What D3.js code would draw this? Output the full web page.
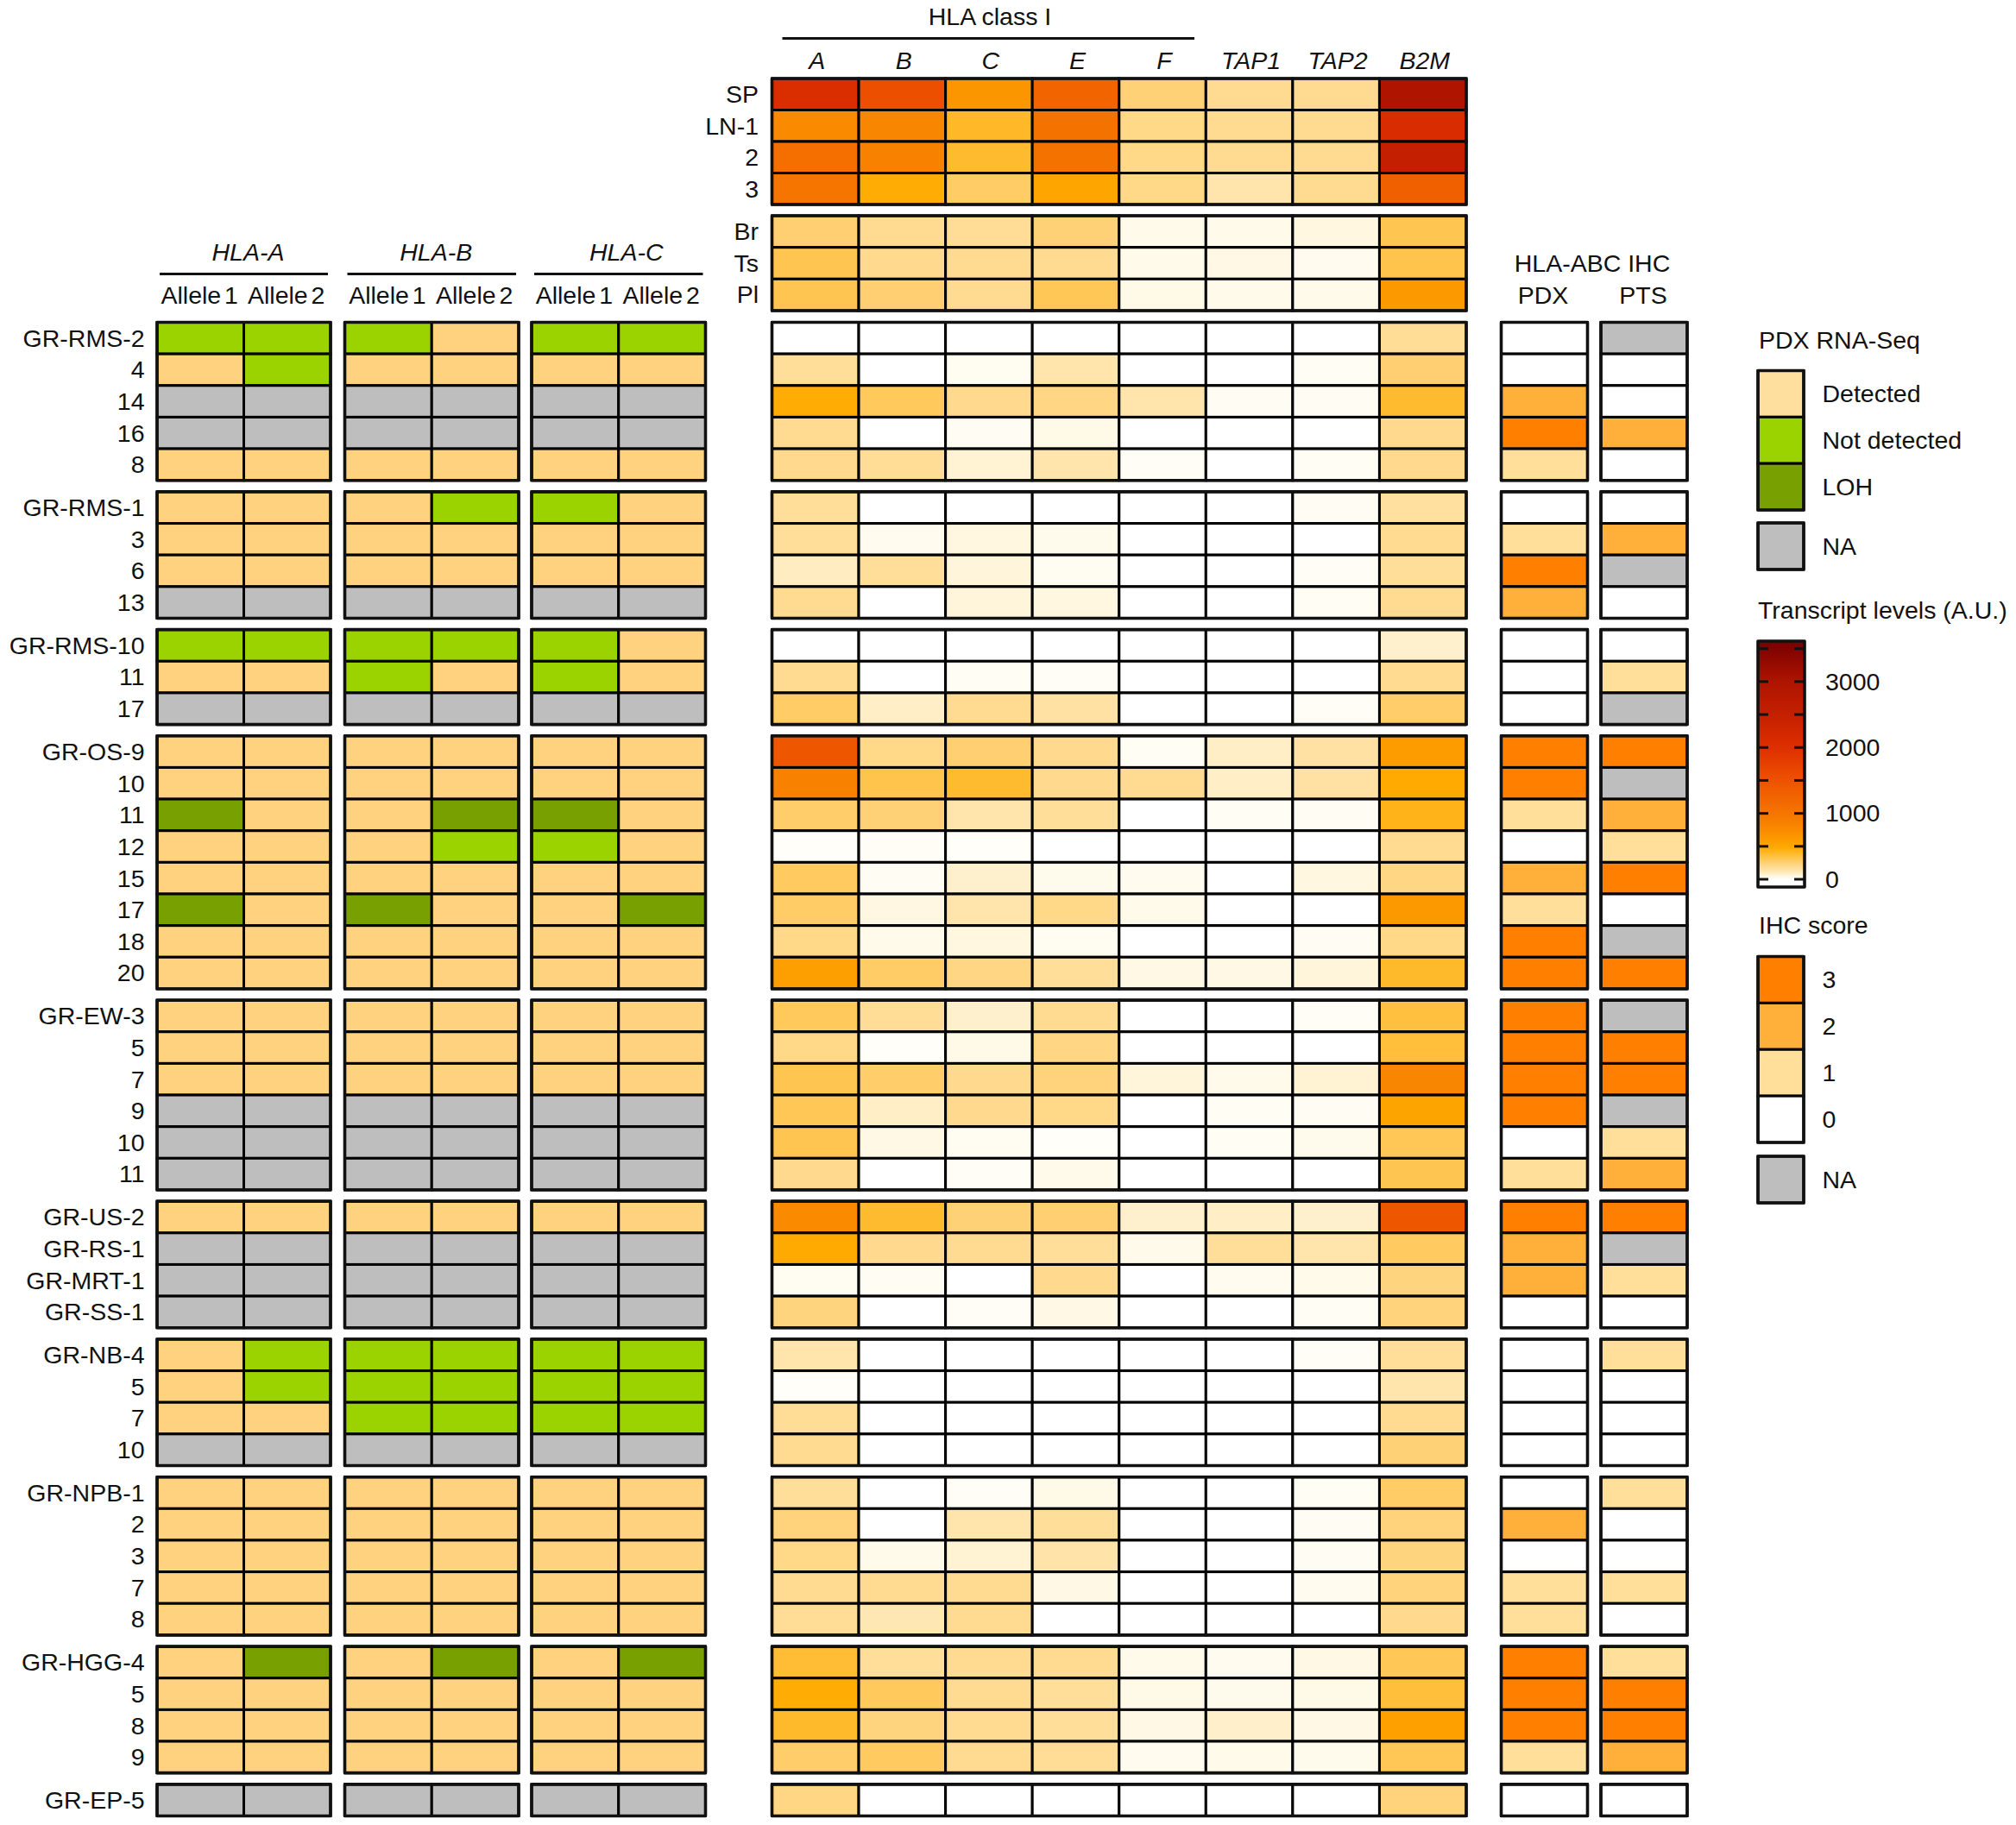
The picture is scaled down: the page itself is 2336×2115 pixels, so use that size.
<!DOCTYPE html>
<html>
<head>
    <title>HLA class I expression heatmap</title>
    <script src="https://d3js.org/d3.v7.min.js"></script>
    <style>
        body { margin: 0; background: white; }
        text { font-family: "Liberation Sans", Arial, sans-serif; font-size: 28.5px; fill: #111; }
        .it { font-style: italic; }
    </style>
</head>
<body>
    <div id="chart"></div>
    <script>
        var genes = ["A", "B", "C", "E", "F", "TAP1", "TAP2", "B2M"];
        var alleleGenes = ["HLA-A", "HLA-B", "HLA-C"];
        var alleleNames = ["Allele 1", "Allele 2"];

        // reference tissues, top of the heatmap
        var refLabels1 = ["SP", "LN-1", "2", "3"];
        var refValues1 = [
            [2050, 1550, 650, 1250, 250, 190, 190, 3000],
            [750, 800, 400, 1050, 210, 190, 190, 2100],
            [1100, 850, 380, 1050, 210, 190, 190, 2500],
            [1000, 470, 280, 520, 210, 130, 190, 1300]
        ];
        var refLabels2 = ["Br", "Ts", "Pl"];
        var refValues2 = [
            [260, 190, 180, 250, 30, 30, 50, 320],
            [320, 200, 190, 190, 30, 40, 20, 330],
            [320, 260, 190, 310, 35, 30, 30, 620]
        ];

        // one sub-array per PDX group
        var rowLabels = [
            ["GR-RMS-2", "4", "14", "16", "8"],
            ["GR-RMS-1", "3", "6", "13"],
            ["GR-RMS-10", "11", "17"],
            ["GR-OS-9", "10", "11", "12", "15", "17", "18", "20"],
            ["GR-EW-3", "5", "7", "9", "10", "11"],
            ["GR-US-2", "GR-RS-1", "GR-MRT-1", "GR-SS-1"],
            ["GR-NB-4", "5", "7", "10"],
            ["GR-NPB-1", "2", "3", "7", "8"],
            ["GR-HGG-4", "5", "8", "9"],
            ["GR-EP-5"]
        ];

        // D detected, N not detected, L LOH, X NA; A1 A2 B1 B2 C1 C2
        var alleleStatus = [
            "NNNDNN", "DNDDDD", "XXXXXX", "XXXXXX", "DDDDDD",
            "DDDNND", "DDDDDD", "DDDDDD", "XXXXXX",
            "NNNNND", "DDNDND", "XXXXXX",
            "DDDDDD", "DDDDDD", "LDDLLD", "DDDNND", "DDDDDD", "LDLDDL", "DDDDDD", "DDDDDD",
            "DDDDDD", "DDDDDD", "DDDDDD", "XXXXXX", "XXXXXX", "XXXXXX",
            "DDDDDD", "XXXXXX", "XXXXXX", "XXXXXX",
            "DNNNNN", "DNNNNN", "DDNNNN", "XXXXXX",
            "DDDDDD", "DDDDDD", "DDDDDD", "DDDDDD", "DDDDDD",
            "DLDLDL", "DDDDDD", "DDDDDD", "DDDDDD",
            "XXXXXX"
        ];

        var heatValues = [
            [0, 0, 0, 0, 0, 0, 0, 180],
            [170, 0, 15, 130, 0, 0, 10, 260],
            [470, 300, 200, 220, 130, 12, 12, 380],
            [190, 0, 12, 35, 0, 0, 0, 200],
            [200, 180, 70, 130, 8, 0, 10, 200],

            [170, 0, 0, 0, 0, 0, 12, 160],
            [170, 20, 50, 25, 0, 0, 0, 190],
            [100, 170, 60, 15, 0, 0, 8, 170],
            [190, 0, 60, 50, 0, 0, 10, 190],

            [0, 0, 0, 0, 0, 0, 0, 80],
            [190, 0, 10, 8, 0, 0, 0, 190],
            [280, 90, 190, 150, 0, 0, 8, 270],

            [1450, 210, 260, 200, 10, 90, 150, 600],
            [850, 330, 380, 200, 190, 90, 150, 480],
            [270, 250, 130, 170, 0, 10, 12, 430],
            [6, 8, 6, 0, 0, 0, 0, 190],
            [290, 12, 80, 25, 20, 0, 50, 220],
            [280, 45, 130, 210, 30, 0, 0, 620],
            [210, 30, 50, 15, 0, 0, 12, 210],
            [570, 280, 220, 170, 40, 40, 60, 390],

            [300, 180, 80, 190, 0, 0, 8, 350],
            [210, 6, 35, 220, 0, 0, 0, 360],
            [320, 270, 200, 240, 60, 30, 70, 800],
            [310, 90, 200, 210, 0, 10, 12, 530],
            [320, 40, 15, 6, 0, 10, 25, 310],
            [200, 0, 8, 30, 0, 0, 0, 320],

            [750, 380, 250, 260, 80, 90, 80, 1450],
            [480, 200, 190, 170, 30, 170, 130, 290],
            [15, 12, 0, 200, 0, 20, 30, 230],
            [230, 0, 8, 40, 0, 0, 10, 240],

            [130, 0, 0, 0, 0, 0, 8, 170],
            [6, 0, 0, 0, 0, 0, 0, 130],
            [180, 0, 0, 0, 0, 0, 0, 190],
            [190, 0, 0, 0, 0, 0, 0, 250],

            [170, 0, 8, 35, 0, 0, 10, 280],
            [240, 0, 130, 170, 0, 0, 12, 240],
            [210, 30, 70, 140, 0, 0, 12, 230],
            [190, 190, 190, 40, 0, 0, 20, 240],
            [180, 120, 190, 0, 0, 0, 0, 200],

            [370, 170, 190, 190, 30, 20, 40, 310],
            [470, 300, 190, 170, 35, 25, 35, 360],
            [390, 230, 190, 170, 40, 85, 40, 560],
            [270, 290, 190, 180, 20, 30, 25, 310],

            [220, 0, 0, 0, 0, 0, 0, 240]
        ];

        // -1 = NA
        var ihcPdx = [0, 0, 2, 3, 1, 0, 1, 3, 2, 0, 0, 0, 3, 3, 1, 0, 2, 1, 3, 3, 3, 3, 3, 3, 0, 1,
                      3, 2, 2, 0, 0, 0, 0, 0, 0, 2, 0, 1, 1, 3, 3, 3, 1, 0];
        var ihcPts = [-1, 0, 0, 2, 0, 0, 2, -1, 0, 0, 1, -1, 3, -1, 2, 1, 3, 0, -1, 3, -1, 3, 3, -1, 1, 2,
                      3, -1, 1, 0, 1, 0, 0, 0, 1, 0, 0, 1, 0, 1, 3, 3, 2, 0];

        var transcriptTicks = [0, 500, 1000, 1500, 2000, 2500, 3000, 3500];
        var transcriptLabels = [0, 1000, 2000, 3000];
        var transcriptStops = [0, 10, 60, 130, 250, 370, 480, 750, 1000, 1500, 2000, 2500, 3000, 3600];
        var transcriptColors = ["#ffffff", "#fffdf4", "#fff5da", "#ffe5ac", "#ffd176", "#ffbd35", "#ffaa00", "#fa8a00",
                                "#f57500", "#ee5200", "#de2f00", "#c42000", "#ae1400", "#780000"];

        var statusKeys = ["D", "N", "L", "X"];
        var statusColors = ["#ffd27f", "#9bd300", "#78a000", "#bebebe"];
        var ihcKeys = [3, 2, 1, 0, -1];
        var ihcColors = ["#ff7f00", "#ffb03b", "#ffdf99", "#ffffff", "#bebebe"];

        var svg = d3.select("#chart").append("svg")
            .attr("width", 2336)
            .attr("height", 2115);

        var heatColor = d3.scaleLinear().domain(transcriptStops).range(transcriptColors).clamp(true);
        var statusColor = d3.scaleOrdinal(statusKeys, statusColors);
        var ihcColor = d3.scaleOrdinal(ihcKeys, ihcColors);

        // flat row list, group gaps counted in units of one row
        var gapRatio = 0.36;
        var rows = [];
        var groupInfo = [];
        rowLabels.forEach(function(labels, g) {
            groupInfo.push({start: rows.length, n: labels.length, group: g});
            labels.forEach(function(label) {
                rows.push({label: label, index: rows.length, group: g});
            });
        });
        var totalUnits = rows.length + (rowLabels.length - 1) * gapRatio;
        var yUnit = d3.scaleLinear().domain([0, totalUnits]).range([373.5, 2104.5]);
        var rowTop = function(i, g) { return yUnit(i + g * gapRatio); };
        var rowH = yUnit(1) - yUnit(0);

        var xHeat = d3.scaleBand().domain(genes).range([894.5, 1699]);
        var alleleX = {
            "HLA-A": d3.scaleLinear().domain([0, 2]).range([182, 383]),
            "HLA-B": d3.scaleLinear().domain([0, 2]).range([399.5, 601]),
            "HLA-C": d3.scaleLinear().domain([0, 2]).range([616, 817.5])
        };
        var ihcX = {
            pdx: d3.scaleLinear().domain([0, 1]).range([1739.5, 1839.5]),
            pts: d3.scaleLinear().domain([0, 1]).range([1855, 1955])
        };

        function cell(g, x, y, w, h, fill) {
            g.append("rect")
                .attr("x", x).attr("y", y).attr("width", w).attr("height", h)
                .attr("fill", fill)
                .attr("stroke", "black").attr("stroke-width", 3);
        }
        function box(g, x, y, w, h) {
            g.append("rect")
                .attr("x", x).attr("y", y).attr("width", w).attr("height", h)
                .attr("fill", "none")
                .attr("stroke", "#111").attr("stroke-width", 3.6)
                .attr("stroke-linejoin", "round");
        }
        function label(x, y, txt, anchor, cls) {
            return svg.append("text")
                .attr("x", x).attr("y", y).attr("dy", "0.345em")
                .attr("text-anchor", anchor || "middle")
                .attr("class", cls || null)
                .text(txt);
        }
        function hline(x1, x2, y) {
            svg.append("line")
                .attr("x1", x1).attr("x2", x2).attr("y1", y).attr("y2", y)
                .attr("stroke", "#111").attr("stroke-width", 3);
        }

        var cells = svg.append("g");
        var frames = svg.append("g");

        // top reference panels
        [[refLabels1, refValues1, 91, 237], [refLabels2, refValues2, 250, 360]].forEach(function(p) {
            var yRef = d3.scaleBand().domain(p[0]).range([p[2], p[3]]);
            p[1].forEach(function(vals, r) {
                vals.forEach(function(v, c) {
                    cell(cells, xHeat(genes[c]), yRef(p[0][r]), xHeat.bandwidth(), yRef.bandwidth(), heatColor(v));
                });
                label(879, yRef(p[0][r]) + yRef.bandwidth() / 2, p[0][r], "end");
            });
            box(frames, xHeat.range()[0], p[2], xHeat.range()[1] - xHeat.range()[0], p[3] - p[2]);
        });

        genes.forEach(function(g) {
            label(xHeat(g) + xHeat.bandwidth() / 2 + 2, 70, g, "middle", "it");
        });
        hline(906.5, 1384, 44.5);
        label(1147, 19, "HLA class I");

        // allele headers
        var headerShift = {"HLA-A": 5, "HLA-B": 5, "HLA-C": 9};
        alleleGenes.forEach(function(g) {
            var x = alleleX[g];
            label(x(1) + headerShift[g], 292, g, "middle", "it");
            hline(x(0) + 3, x(2) - 3, 317.5);
            alleleNames.forEach(function(a, k) {
                label((x(k) + x(k + 1)) / 2 - 1, 342.5, a).attr("word-spacing", "-4px");
            });
        });
        label(1845, 305.5, "HLA-ABC IHC");
        label(1788, 342.5, "PDX");
        label(1904, 342.5, "PTS");

        // main rows
        rows.forEach(function(d) {
            var y = rowTop(d.index, d.group);
            alleleGenes.forEach(function(g, k) {
                var x = alleleX[g];
                [0, 1].forEach(function(a) {
                    cell(cells, x(a), y, x(a + 1) - x(a), rowH, statusColor(alleleStatus[d.index][k * 2 + a]));
                });
            });
            heatValues[d.index].forEach(function(v, c) {
                cell(cells, xHeat(genes[c]), y, xHeat.bandwidth(), rowH, heatColor(v));
            });
            cell(cells, ihcX.pdx(0), y, ihcX.pdx(1) - ihcX.pdx(0), rowH, ihcColor(ihcPdx[d.index]));
            cell(cells, ihcX.pts(0), y, ihcX.pts(1) - ihcX.pts(0), rowH, ihcColor(ihcPts[d.index]));
            label(167.5, y + rowH / 2, d.label, "end");
        });

        groupInfo.forEach(function(g) {
            var y = rowTop(g.start, g.group);
            var h = g.n * rowH;
            alleleGenes.forEach(function(a) {
                box(frames, alleleX[a](0), y, alleleX[a](2) - alleleX[a](0), h);
            });
            box(frames, xHeat.range()[0], y, xHeat.range()[1] - xHeat.range()[0], h);
            box(frames, ihcX.pdx(0), y, 100, h);
            box(frames, ihcX.pts(0), y, 100, h);
        });

        // legends
        var legendX = 2037;
        var legendW = 53;
        var legendTextX = 2111.5;

        function swatches(keys, names, colors, top, bottom) {
            var yLeg = d3.scaleBand().domain(keys).range([top, bottom]);
            keys.forEach(function(k, i) {
                cell(cells, legendX, yLeg(k), legendW, yLeg.bandwidth(), colors[i]);
                label(legendTextX, yLeg(k) + yLeg.bandwidth() / 2, names[i], "start");
            });
            box(frames, legendX, top, legendW, bottom - top);
        }

        label(2038, 394, "PDX RNA-Seq", "start");
        swatches(["Detected", "Not detected", "LOH"], ["Detected", "Not detected", "LOH"],
                 ["#ffdf9e", "#9bd300", "#78a000"], 429.5, 591);
        swatches(["NA"], ["NA"], ["#bebebe"], 606, 660);

        label(2037, 707, "Transcript levels (A.U.)", "start");
        var yBar = d3.scaleLinear().domain([0, 3500]).range([1019, 751.7]);
        var defs = svg.append("defs");
        var grad = defs.append("linearGradient").attr("id", "transcripts")
            .attr("x1", 0).attr("x2", 0).attr("y1", 0).attr("y2", 1)
            .attr("gradientUnits", "objectBoundingBox");
        var barTop = 743;
        var barBottom = 1028;
        transcriptStops.slice().reverse().forEach(function(v) {
            grad.append("stop")
                .attr("offset", (yBar(v) - barTop) / (barBottom - barTop))
                .attr("stop-color", heatColor(v));
        });
        svg.append("rect")
            .attr("x", legendX).attr("y", barTop).attr("width", legendW + 1).attr("height", barBottom - barTop)
            .attr("fill", "url(#transcripts)")
            .attr("stroke", "#111").attr("stroke-width", 3.6).attr("stroke-linejoin", "round");
        transcriptTicks.forEach(function(v) {
            hline(legendX + 1, legendX + 12, yBar(v));
            hline(legendX + legendW - 11, legendX + legendW, yBar(v));
        });
        transcriptLabels.forEach(function(v) {
            label(2115, yBar(v), v, "start");
        });

        label(2038, 1072, "IHC score", "start");
        swatches([3, 2, 1, 0], ["3", "2", "1", "0"], ["#ff7f00", "#ffb03b", "#ffdf99", "#ffffff"], 1108.5, 1324);
        swatches(["NA"], ["NA"], ["#bebebe"], 1340, 1394);
    </script>
</body>
</html>
